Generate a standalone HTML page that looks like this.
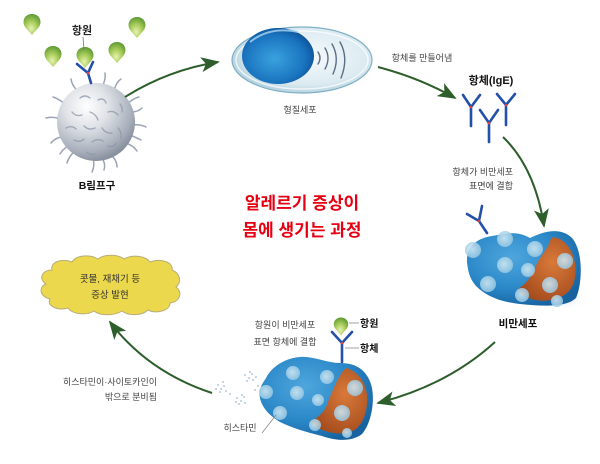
<!DOCTYPE html>
<html><head><meta charset="utf-8"><style>
html,body{margin:0;padding:0;background:#fff;}
body{width:600px;height:464px;overflow:hidden;}
svg{display:block;}
text{font-family:"Liberation Sans","Noto Sans CJK KR",sans-serif;}
</style></head><body>
<svg width="600" height="464" viewBox="0 0 600 464" xmlns="http://www.w3.org/2000/svg">
<defs>
<radialGradient id="drop" cx="45%" cy="70%" r="70%"><stop offset="0" stop-color="#e6f2b0"/><stop offset=".5" stop-color="#a8cc5a"/><stop offset="1" stop-color="#5e9a34"/></radialGradient>
<radialGradient id="sph" cx="38%" cy="30%" r="70%"><stop offset="0" stop-color="#ffffff"/><stop offset=".4" stop-color="#dfe2e7"/><stop offset=".85" stop-color="#a6adb9"/><stop offset="1" stop-color="#8a91a0"/></radialGradient>
<radialGradient id="pl" cx="55%" cy="45%" r="60%"><stop offset="0" stop-color="#f6fafc"/><stop offset=".7" stop-color="#dcebf1"/><stop offset="1" stop-color="#a9cbd9"/></radialGradient>
<radialGradient id="nuc" cx="45%" cy="55%" r="60%"><stop offset="0" stop-color="#3aa2de"/><stop offset=".7" stop-color="#1a74bf"/><stop offset="1" stop-color="#0b4f94"/></radialGradient>
<radialGradient id="mast" cx="40%" cy="35%" r="70%"><stop offset="0" stop-color="#4ea6dc"/><stop offset=".6" stop-color="#2b88c8"/><stop offset="1" stop-color="#17629f"/></radialGradient>
<radialGradient id="ora" cx="60%" cy="40%" r="70%"><stop offset="0" stop-color="#d9793a"/><stop offset="1" stop-color="#a24a1c"/></radialGradient>
<radialGradient id="gr" cx="45%" cy="45%" r="60%"><stop offset="0" stop-color="#d6ecf6"/><stop offset="1" stop-color="#93c6e2"/></radialGradient>
<radialGradient id="shd" cx="50%" cy="50%" r="50%"><stop offset="0" stop-color="#c9d6e3" stop-opacity=".8"/><stop offset="1" stop-color="#fff" stop-opacity="0"/></radialGradient>
<marker id="ah" viewBox="0 0 20 16" refX="18" refY="8" markerWidth="19" markerHeight="15" markerUnits="userSpaceOnUse" orient="auto"><path d="M0,0 L20,8 L0,16 L5,8 Z" fill="#2d5e2b"/></marker>
<path id="dp" d="M0,-10 C5.5,-10 8.5,-6 8.5,-2 C8.5,3 4,6 0,11 C-4,6 -8.5,3 -8.5,-2 C-8.5,-6 -5.5,-10 0,-10Z"/>
</defs>

<!-- antigen drops -->
<g fill="url(#drop)">
<use href="#dp" x="32" y="24"/>
<use href="#dp" x="137" y="27"/>
<use href="#dp" x="53" y="56"/>
<use href="#dp" x="117" y="52"/>
<use href="#dp" x="85" y="57"/>
</g>
<text x="82" y="34" font-size="11" text-anchor="middle" fill="#222" font-weight="600">항원</text>
<line x1="83" y1="37" x2="84" y2="50" stroke="#777" stroke-width=".8"/>

<!-- B cell -->
<g stroke="#9aa4b6" stroke-width="1.5" fill="none" stroke-linecap="round">
<path d="M78,91 Q72,86 71,79"/>
<path d="M102,87 Q106,80 105,73"/>
<path d="M114,91 Q116,82 121,79"/>
<path d="M127,104 Q134,98 139,97"/>
<path d="M132,125 Q140,124 146,127"/>
<path d="M125,143 Q133,145 137,151"/>
<path d="M111,155 Q117,160 117,167"/>
<path d="M93,158 Q95,166 92,172"/>
<path d="M75,151 Q69,156 67,163"/>
<path d="M63,137 Q56,137 51,143"/>
<path d="M60,119 Q53,116 46,118"/>
<path d="M65,104 Q59,99 53,97"/>
<path d="M131,112 Q138,112 142,108"/>
<path d="M130,135 Q137,138 141,140"/>
<path d="M68,146 Q62,150 60,154"/>
<path d="M102,158 Q106,164 104,170"/>
</g>
<circle cx="96" cy="122" r="39" fill="url(#sph)"/>
<g stroke="#8d97aa" stroke-width="1.4" fill="none" stroke-linecap="round" opacity=".75">
<path d="M80,98 q5,-4 10,0"/><path d="M98,100 q6,-3 8,3"/><path d="M72,112 q4,5 10,3"/>
<path d="M90,112 q6,2 8,8"/><path d="M108,112 q6,-2 10,3"/><path d="M66,128 q6,-3 10,1"/>
<path d="M84,126 q5,5 11,2"/><path d="M102,128 q4,6 10,5"/><path d="M118,128 q4,4 3,10"/>
<path d="M74,140 q6,3 10,-1"/><path d="M92,142 q5,-4 11,-1"/><path d="M108,146 q5,2 8,-3"/>
<path d="M86,152 q4,3 9,2"/><path d="M120,104 q3,4 2,8"/>
</g>
<!-- antibody on B cell -->
<g stroke="#2350a8" stroke-width="2.6" stroke-linecap="round" fill="none">
<path d="M77,64 L88,73 L93,62"/><path d="M88,73 L91,83"/>
</g>
<circle cx="88" cy="73" r="1.3" fill="#e04040"/>
<text x="97" y="189" font-size="10.5" text-anchor="middle" fill="#111" font-weight="bold">B림프구</text>

<!-- arrow 1 -->
<path d="M125,97 Q168,70 218,62" stroke="#2d5e2b" stroke-width="2" fill="none" marker-end="url(#ah)"/>

<!-- plasma cell -->
<ellipse cx="318" cy="78" rx="60" ry="16" fill="url(#shd)"/>
<ellipse cx="302" cy="60" rx="70" ry="33" fill="url(#pl)" stroke="#7fb0c6" stroke-width="1.2"/>
<ellipse cx="302" cy="60" rx="66" ry="29" fill="none" stroke="#fff" stroke-width="1.5" opacity=".7"/>
<ellipse cx="278" cy="56" rx="36" ry="28" fill="url(#nuc)"/>
<path d="M250,42 Q270,26 298,32" stroke="#a9d6f2" stroke-width="2" fill="none" opacity=".8"/>
<g stroke="#5a6e84" stroke-width="1.4" fill="none" stroke-linecap="round">
<path d="M318,52 Q322,58 318,64"/>
<path d="M325,48 Q331,58 325,69"/>
<path d="M332,44 Q340,58 333,74"/>
<path d="M340,42 Q349,58 341,78"/>
</g>
<text x="300" y="113" font-size="9" text-anchor="middle" fill="#444">형질세포</text>

<!-- arrow 2 -->
<text x="422" y="61" font-size="9" text-anchor="middle" fill="#444">항체를 만들어냄</text>
<path d="M378,67 Q420,78 455,98" stroke="#2d5e2b" stroke-width="2" fill="none" marker-end="url(#ah)"/>

<text x="491" y="84" font-size="11" text-anchor="middle" fill="#111" font-weight="bold">항체(IgE)</text>
<g stroke="#2350a8" stroke-width="2.6" stroke-linecap="round" fill="none">
<path d="M463,95 L471,107 L480,95"/><path d="M471,107 L471,126"/>
<path d="M480,110 L489,123 L498,110"/><path d="M489,123 L489,142"/>
<path d="M497,94 L506,105 L515,94"/><path d="M506,105 L506,125"/>
</g>
<g fill="#e04040"><circle cx="471" cy="107" r="1.3"/><circle cx="489" cy="123" r="1.3"/><circle cx="506" cy="105" r="1.3"/></g>

<!-- arrow 3 -->
<path d="M503,137 Q535,168 544,226" stroke="#2d5e2b" stroke-width="2" fill="none" marker-end="url(#ah)"/>
<text x="513" y="175" font-size="9" text-anchor="end" fill="#444">항체가 비만세포</text>
<text x="513" y="189" font-size="9" text-anchor="end" fill="#444">표면에 결합</text>

<!-- title -->
<text x="302" y="209" font-size="17" text-anchor="middle" fill="#e60012" font-weight="bold">알레르기 증상이</text>
<text x="302" y="236" font-size="17" text-anchor="middle" fill="#e60012" font-weight="bold">몸에 생기는 과정</text>

<!-- right mast cell -->
<ellipse cx="560" cy="300" rx="30" ry="10" fill="url(#shd)"/>
<path d="M467,262 C466,246 478,238 492,236 C505,234 516,230 530,238 C542,232 560,226 572,238 C584,252 582,285 576,298 C566,308 540,306 520,304 C500,302 486,296 476,286 C470,279 468,272 467,262Z" fill="url(#mast)"/>
<path d="M553,237 C562,238 572,246 575,263 C577,278 573,288 567,293 C558,300 546,302 535,300 C526,298 520,294 518,289 C526,284 532,276 535,268 C539,258 545,252 548,246 C550,242 550,239 553,237Z" fill="url(#ora)"/>
<g fill="url(#gr)" opacity=".85">
<circle cx="473" cy="250" r="8"/><circle cx="505" cy="239" r="8"/><circle cx="535" cy="249" r="8"/>
<circle cx="505" cy="265" r="8"/><circle cx="528" cy="270" r="7"/><circle cx="488" cy="284" r="8"/>
<circle cx="565" cy="261" r="8"/><circle cx="550" cy="285" r="8"/><circle cx="522" cy="295" r="7"/>
<circle cx="557" cy="301" r="6"/>
</g>
<g stroke="#2350a8" stroke-width="2.6" stroke-linecap="round" fill="none">
<path d="M467,214 L479,221 L482,206"/><path d="M479,221 L487,233"/>
</g>
<circle cx="479" cy="221" r="1.3" fill="#e04040"/>
<text x="518" y="327" font-size="10.5" text-anchor="middle" fill="#111" font-weight="bold">비만세포</text>

<!-- arrow 4 -->
<path d="M495,342 Q448,385 378,403" stroke="#2d5e2b" stroke-width="2" fill="none" marker-end="url(#ah)"/>

<!-- bottom mast cell -->
<text x="285" y="328" font-size="9" text-anchor="middle" fill="#444">항원이 비만세포</text>
<text x="285" y="345" font-size="9" text-anchor="middle" fill="#444">표면 항체에 결합</text>
<path d="M266,378 C272,366 286,358 300,357 C314,356 326,363 340,363 C356,363 368,370 372,388 C375,405 370,425 362,434 C352,442 336,441 322,436 C306,432 292,428 280,422 C270,416 262,408 260,398 C258,390 262,384 266,378Z" fill="url(#mast)"/>
<path d="M347,368 C357,372 365,380 367,395 C368,410 364,422 356,429 C346,436 330,434 318,428 C312,425 311,422 312,421 C320,416 326,410 328,402 C332,392 336,382 340,376 C342,372 344,369 347,368Z" fill="url(#ora)"/>
<g fill="url(#gr)" opacity=".85">
<circle cx="293" cy="373" r="7"/><circle cx="327" cy="377" r="7"/><circle cx="297" cy="393" r="7"/>
<circle cx="318" cy="400" r="6"/><circle cx="280" cy="413" r="7"/><circle cx="355" cy="388" r="8"/>
<circle cx="342" cy="413" r="8"/><circle cx="315" cy="425" r="6"/><circle cx="347" cy="433" r="5"/>
<circle cx="266" cy="392" r="7"/>
</g>
<!-- histamine dots -->
<g fill="#b7c9dc">
<circle cx="218" cy="385" r="1"/><circle cx="221" cy="389" r="1"/><circle cx="224" cy="386" r="1"/><circle cx="220" cy="392" r="1"/><circle cx="226" cy="391" r="1"/><circle cx="216" cy="389" r="1"/><circle cx="223" cy="382" r="1"/>
<circle cx="245" cy="375" r="1"/><circle cx="249" cy="378" r="1"/><circle cx="252" cy="374" r="1"/><circle cx="247" cy="381" r="1"/><circle cx="253" cy="380" r="1"/><circle cx="250" cy="372" r="1"/><circle cx="256" cy="377" r="1"/>
<circle cx="237" cy="398" r="1"/><circle cx="241" cy="401" r="1"/><circle cx="244" cy="397" r="1"/><circle cx="239" cy="404" r="1"/><circle cx="245" cy="403" r="1"/><circle cx="236" cy="402" r="1"/><circle cx="242" cy="395" r="1"/>
<circle cx="258" cy="386" r="1"/><circle cx="255" cy="390" r="1"/><circle cx="230" cy="394" r="1"/>
</g>
<g stroke="#2350a8" stroke-width="2.6" stroke-linecap="round" fill="none">
<path d="M332,332 L342,343 L352,332"/><path d="M342,343 L342,362"/>
</g>
<circle cx="342" cy="343" r="1.3" fill="#e04040"/>
<use href="#dp" x="341" y="326" fill="url(#drop)" transform="translate(341 326) scale(.85) translate(-341 -326)"/>
<line x1="349" y1="323" x2="359" y2="323" stroke="#888" stroke-width=".8"/>
<line x1="345" y1="348" x2="359" y2="348" stroke="#888" stroke-width=".8"/>
<text x="360" y="327" font-size="10" fill="#111" font-weight="bold">항원</text>
<text x="360" y="352" font-size="10" fill="#111" font-weight="bold">항체</text>
<text x="240" y="431" font-size="9" text-anchor="middle" fill="#444">히스타민</text>
<line x1="262" y1="433" x2="276" y2="415" stroke="#888" stroke-width=".8"/>

<!-- arrow 5 -->
<path d="M212,393 Q148,372 110,322" stroke="#2d5e2b" stroke-width="2" fill="none" marker-end="url(#ah)"/>
<text x="157" y="385" font-size="9" text-anchor="end" fill="#444">히스타민이·사이토카인이</text>
<text x="157" y="400" font-size="9" text-anchor="end" fill="#444">밖으로 분비됨</text>

<!-- cloud -->
<path d="M52,270 C50,262 62,258 72,262 C76,255 90,254 98,259 C104,254 118,254 124,259 C132,254 146,256 150,262 C160,258 174,262 172,270 C180,273 182,282 176,287 C183,292 180,302 170,303 C170,311 156,314 148,310 C142,316 128,316 122,311 C114,316 100,316 94,311 C86,316 72,314 68,308 C58,311 46,306 50,299 C40,297 38,287 46,284 C38,279 42,270 52,270Z" fill="#ecd84c" stroke="#b8ac7a" stroke-width="1"/>
<text x="110" y="282" font-size="9.5" text-anchor="middle" fill="#333">콧물, 재채기 등</text>
<text x="110" y="298" font-size="9.5" text-anchor="middle" fill="#333">증상 발현</text>
</svg>
</body></html>
